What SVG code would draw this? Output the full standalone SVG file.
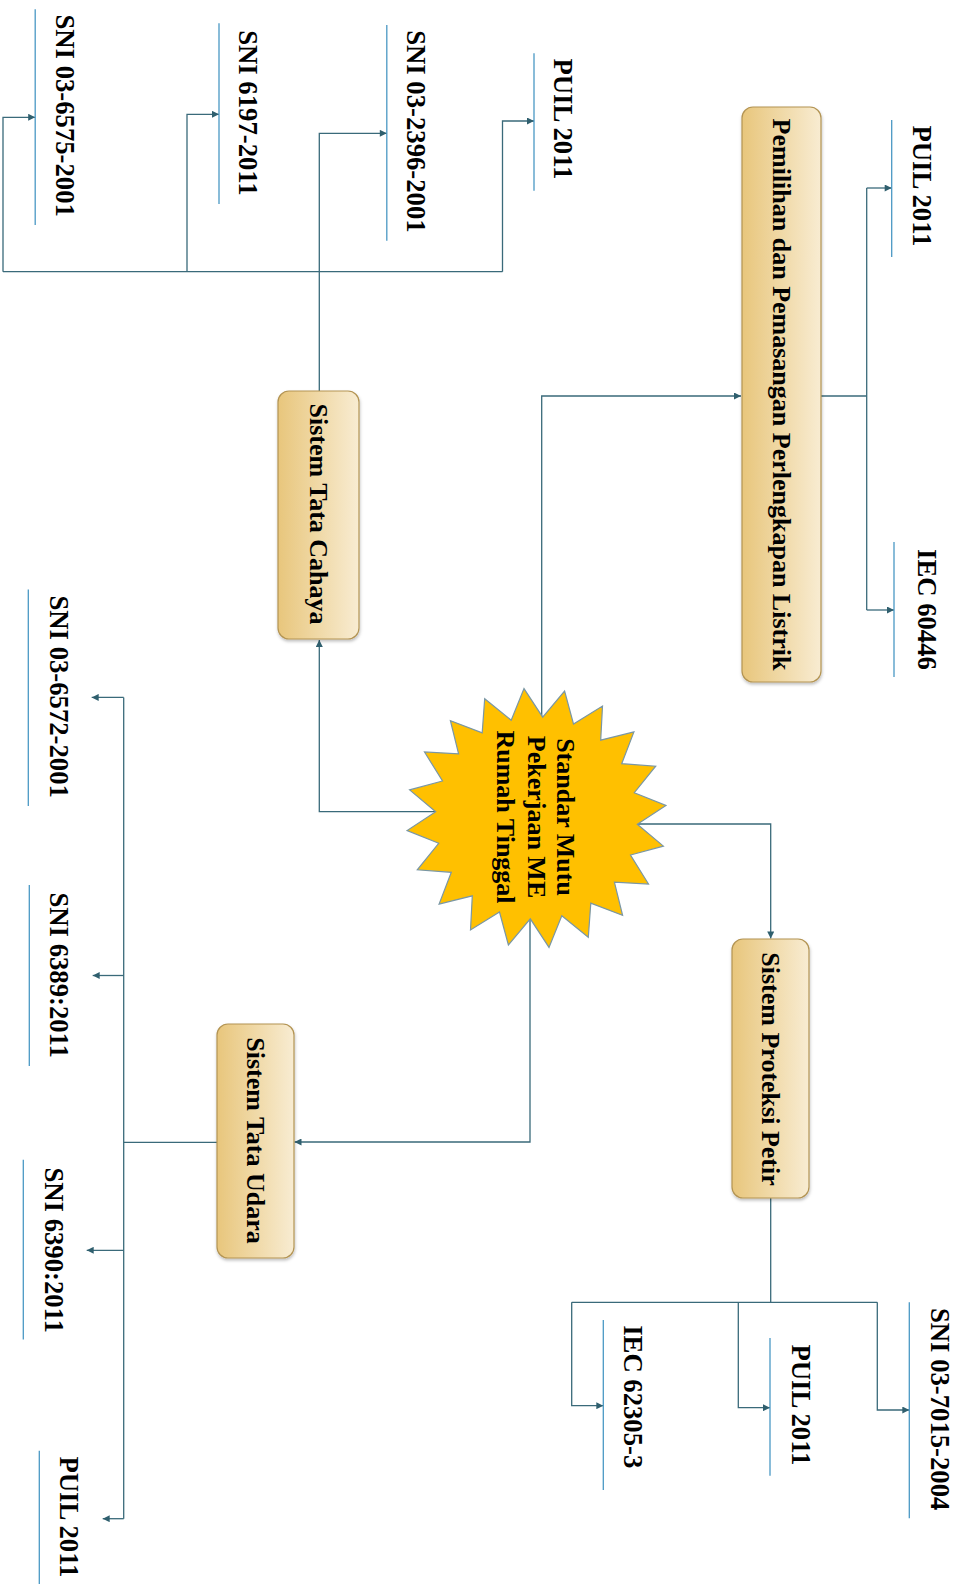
<svg xmlns="http://www.w3.org/2000/svg" width="957" height="1584" viewBox="0 0 957 1584">
  <style>
    .lbl { font-family: "Liberation Serif", "Times New Roman", serif; font-weight: bold; font-size: 26px; fill: #000; }
    .ref { font-size: 26.7px; }
    .conn { fill: none; stroke: #3a6a7a; stroke-width: 1.3; }
    .uline { stroke: #4a98c4; stroke-width: 1.3; }
    .box { stroke: #b39453; stroke-width: 1.2; fill: url(#boxGrad); filter: url(#shadow); }
  </style>
  <defs>
    <linearGradient id="boxGrad" x1="0" y1="0" x2="1" y2="0">
      <stop offset="0" stop-color="#e8c67c"/>
      <stop offset="1" stop-color="#f8ecd2"/>
    </linearGradient>
    <filter id="shadow" x="-10%" y="-10%" width="130%" height="130%">
      <feDropShadow dx="0.5" dy="2" stdDeviation="1.5" flood-color="#000" flood-opacity="0.25"/>
    </filter>
    <marker id="arrow" viewBox="0 0 10 10" refX="10" refY="5" markerWidth="9" markerHeight="7" markerUnits="userSpaceOnUse" orient="auto">
      <path d="M0,0 L10,5 L0,10 z" fill="#2f5f6e"/>
    </marker>
  </defs>

  <rect width="957" height="1584" fill="#ffffff"/>

  <!-- connectors -->
  <g id="connectors">
    <!-- from the centre star to the four systems -->
    <path class="conn" d="M541.7,818 V396 H741" marker-end="url(#arrow)"/>
    <path class="conn" d="M536,824 H770.7 V938.5" marker-end="url(#arrow)"/>
    <path class="conn" d="M536,811.7 H319.3 V640" marker-end="url(#arrow)"/>
    <path class="conn" d="M530,818 V1142 H294.5" marker-end="url(#arrow)"/>

    <!-- Pemilihan dan Pemasangan Perlengkapan Listrik -->
    <path class="conn" d="M821,396 H866.7"/>
    <path class="conn" d="M866.7,188 V610"/>
    <path class="conn" d="M866.7,188 H891.7" marker-end="url(#arrow)"/>
    <path class="conn" d="M866.7,610 H894" marker-end="url(#arrow)"/>

    <!-- Sistem Tata Cahaya -->
    <path class="conn" d="M319.3,391 V133.3 H386.8" marker-end="url(#arrow)"/>
    <path class="conn" d="M3,271.7 H502.5"/>
    <path class="conn" d="M3,271.7 V117.3 H35.2" marker-end="url(#arrow)"/>
    <path class="conn" d="M187,271.7 V114.3 H219" marker-end="url(#arrow)"/>
    <path class="conn" d="M502.5,271.7 V121 H534" marker-end="url(#arrow)"/>

    <!-- Sistem Proteksi Petir -->
    <path class="conn" d="M770.7,1198 V1302.3"/>
    <path class="conn" d="M571.7,1302.3 H877.3"/>
    <path class="conn" d="M571.7,1302.3 V1405.7 H603.3" marker-end="url(#arrow)"/>
    <path class="conn" d="M738.3,1302.3 V1407.7 H770" marker-end="url(#arrow)"/>
    <path class="conn" d="M877.3,1302.3 V1410 H909.3" marker-end="url(#arrow)"/>

    <!-- Sistem Tata Udara -->
    <path class="conn" d="M217,1142.3 H123.7"/>
    <path class="conn" d="M123.7,697.4 V1518.7"/>
    <path class="conn" d="M123.7,697.4 H91.7" marker-end="url(#arrow)"/>
    <path class="conn" d="M123.7,975.5 H92.7" marker-end="url(#arrow)"/>
    <path class="conn" d="M123.7,1250.3 H86.7" marker-end="url(#arrow)"/>
    <path class="conn" d="M123.7,1518.7 H102.7" marker-end="url(#arrow)"/>
  </g>

  <!-- centre: 20-point star -->
  <g id="node-standar">
    <polygon fill="#ffc000" stroke="#7a97a5" stroke-width="1.2" points="665.9,805.5 637.3,824.2 663.4,846.1 630.5,855.0 648.5,884.0 614.4,882.2 622.6,915.4 590.8,903.2 588.3,937.2 561.8,915.8 549.0,947.4 530.3,918.8 508.4,944.9 499.5,912.0 470.5,930.0 472.3,895.9 439.1,904.1 451.3,872.3 417.3,869.8 438.7,843.3 407.1,830.5 435.7,811.8 409.6,789.9 442.5,781.0 424.5,752.0 458.6,753.8 450.4,720.6 482.2,732.8 484.7,698.8 511.2,720.2 524.0,688.6 542.7,717.2 564.6,691.1 573.5,724.0 602.5,706.0 600.7,740.1 633.9,731.9 621.7,763.7 655.7,766.2 634.3,792.7"/>
    <g transform="translate(0,817) rotate(90)">
      <text class="lbl" x="0" y="-556.7" text-anchor="middle">Standar Mutu</text>
      <text class="lbl" x="0" y="-528.3" text-anchor="middle">Pekerjaan ME</text>
      <text class="lbl" x="0" y="-497.3" text-anchor="middle">Rumah Tinggal</text>
    </g>
  </g>

  <!-- system boxes -->
  <g id="node-pemilihan">
    <rect class="box" x="742" y="107" width="79" height="575" rx="11"/>
    <text class="lbl" transform="translate(781.5,394.5) rotate(90)" x="0" y="8.6" text-anchor="middle">Pemilihan dan Pemasangan Perlengkapan Listrik</text>
  </g>
  <g id="node-cahaya">
    <rect class="box" x="278" y="391" width="81" height="248" rx="11"/>
    <text class="lbl" transform="translate(318.5,514) rotate(90)" x="0" y="8.6" text-anchor="middle">Sistem Tata Cahaya</text>
  </g>
  <g id="node-udara">
    <rect class="box" x="217" y="1024" width="77" height="234" rx="11"/>
    <text class="lbl" transform="translate(255.5,1140.5) rotate(90)" x="0" y="8.6" text-anchor="middle">Sistem Tata Udara</text>
  </g>
  <g id="node-petir">
    <rect class="box" x="732" y="939" width="77" height="259" rx="11"/>
    <text class="lbl" transform="translate(770.5,1069) rotate(90)" x="0" y="8.6" text-anchor="middle">Sistem Proteksi Petir</text>
  </g>

  <!-- standard references -->
  <g id="ref-sni-03-6575-2001">
    <line class="uline" x1="35.2" y1="9.3" x2="35.2" y2="225"/>
    <text class="lbl ref" transform="translate(55.5,14.5) rotate(90)">SNI 03-6575-2001</text>
  </g>
  <g id="ref-sni-6197-2011">
    <line class="uline" x1="219" y1="23.3" x2="219" y2="204"/>
    <text class="lbl ref" transform="translate(239,30.2) rotate(90)">SNI 6197-2011</text>
  </g>
  <g id="ref-sni-03-2396-2001">
    <line class="uline" x1="386.8" y1="25" x2="386.8" y2="240.7"/>
    <text class="lbl ref" transform="translate(406.7,30.2) rotate(90)">SNI 03-2396-2001</text>
  </g>
  <g id="ref-puil-cahaya">
    <line class="uline" x1="534" y1="53.3" x2="534" y2="190.7"/>
    <text class="lbl ref" transform="translate(554,58.5) rotate(90)">PUIL 2011</text>
  </g>
  <g id="ref-puil-listrik">
    <line class="uline" x1="891.7" y1="120" x2="891.7" y2="257"/>
    <text class="lbl ref" transform="translate(913,125.5) rotate(90)">PUIL 2011</text>
  </g>
  <g id="ref-iec-60446">
    <line class="uline" x1="894" y1="542" x2="894" y2="677"/>
    <text class="lbl ref" transform="translate(918,549) rotate(90)">IEC 60446</text>
  </g>
  <g id="ref-iec-62305-3">
    <line class="uline" x1="603.3" y1="1320" x2="603.3" y2="1490"/>
    <text class="lbl ref" transform="translate(624,1325.2) rotate(90)">IEC 62305-3</text>
  </g>
  <g id="ref-puil-petir">
    <line class="uline" x1="770" y1="1338" x2="770" y2="1475.7"/>
    <text class="lbl ref" transform="translate(792.3,1344.5) rotate(90)">PUIL 2011</text>
  </g>
  <g id="ref-sni-03-7015-2004">
    <line class="uline" x1="909.3" y1="1302.3" x2="909.3" y2="1518.3"/>
    <text class="lbl ref" transform="translate(930.5,1308) rotate(90)">SNI 03-7015-2004</text>
  </g>
  <g id="ref-sni-03-6572-2001">
    <line class="uline" x1="28.3" y1="589.4" x2="28.3" y2="806"/>
    <text class="lbl ref" transform="translate(50,595.5) rotate(90)">SNI 03-6572-2001</text>
  </g>
  <g id="ref-sni-6389-2011">
    <line class="uline" x1="29.3" y1="885" x2="29.3" y2="1066"/>
    <text class="lbl ref" transform="translate(50,892.5) rotate(90)">SNI 6389:2011</text>
  </g>
  <g id="ref-sni-6390-2011">
    <line class="uline" x1="23.3" y1="1159.8" x2="23.3" y2="1339.6"/>
    <text class="lbl ref" transform="translate(45,1167.5) rotate(90)">SNI 6390:2011</text>
  </g>
  <g id="ref-puil-udara">
    <line class="uline" x1="39.3" y1="1450.8" x2="39.3" y2="1584"/>
    <text class="lbl ref" transform="translate(60,1456.5) rotate(90)">PUIL 2011</text>
  </g>
</svg>
